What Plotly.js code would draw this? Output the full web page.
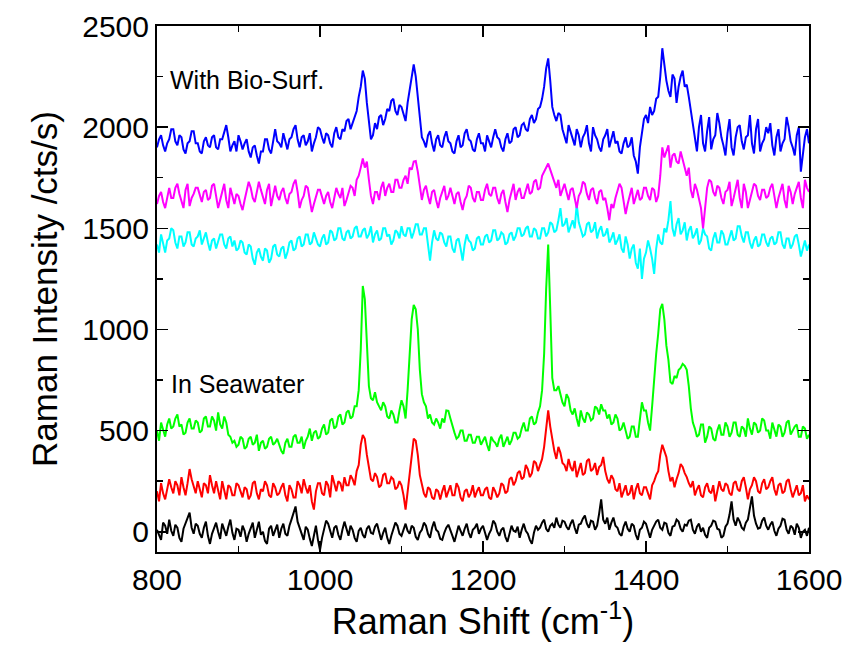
<!DOCTYPE html>
<html>
<head>
<meta charset="utf-8">
<script src="https://cdn.plot.ly/plotly-3.0.1.min.js"></script>
<style>html,body{margin:0;padding:0;background:#fff;}#chart{width:846px;height:647px;}</style>
</head>
<body>
<div id="chart"></div>
<script>
// Raman shift (cm^-1)
var ramanShift = [
800,802.5,805,807.5,810,812.5,815,817.5,820,822.5,825,827.5,830,832.5,835,837.5,840,842.5,845,847.5,
850,852.5,855,857.5,860,862.5,865,867.5,870,872.5,875,877.5,880,882.5,885,887.5,890,892.5,895,897.5,
900,902.5,905,907.5,910,912.5,915,917.5,920,922.5,925,927.5,930,932.5,935,937.5,940,942.5,945,947.5,
950,952.5,955,957.5,960,962.5,965,967.5,970,972.5,975,977.5,980,982.5,985,987.5,990,992.5,995,997.5,
1000,1002.5,1005,1007.5,1010,1012.5,1015,1017.5,1020,1022.5,1025,1027.5,1030,1032.5,1035,1037.5,1040,1042.5,1045,1047.5,
1050,1052.5,1055,1057.5,1060,1062.5,1065,1067.5,1070,1072.5,1075,1077.5,1080,1082.5,1085,1087.5,1090,1092.5,1095,1097.5,
1100,1102.5,1105,1107.5,1110,1112.5,1115,1117.5,1120,1122.5,1125,1127.5,1130,1132.5,1135,1137.5,1140,1142.5,1145,1147.5,
1150,1152.5,1155,1157.5,1160,1162.5,1165,1167.5,1170,1172.5,1175,1177.5,1180,1182.5,1185,1187.5,1190,1192.5,1195,1197.5,
1200,1202.5,1205,1207.5,1210,1212.5,1215,1217.5,1220,1222.5,1225,1227.5,1230,1232.5,1235,1237.5,1240,1242.5,1245,1247.5,
1250,1252.5,1255,1257.5,1260,1262.5,1265,1267.5,1270,1272.5,1275,1277.5,1280,1282.5,1285,1287.5,1290,1292.5,1295,1297.5,
1300,1302.5,1305,1307.5,1310,1312.5,1315,1317.5,1320,1322.5,1325,1327.5,1330,1332.5,1335,1337.5,1340,1342.5,1345,1347.5,
1350,1352.5,1355,1357.5,1360,1362.5,1365,1367.5,1370,1372.5,1375,1377.5,1380,1382.5,1385,1387.5,1390,1392.5,1395,1397.5,
1400,1402.5,1405,1407.5,1410,1412.5,1415,1417.5,1420,1422.5,1425,1427.5,1430,1432.5,1435,1437.5,1440,1442.5,1445,1447.5,
1450,1452.5,1455,1457.5,1460,1462.5,1465,1467.5,1470,1472.5,1475,1477.5,1480,1482.5,1485,1487.5,1490,1492.5,1495,1497.5,
1500,1502.5,1505,1507.5,1510,1512.5,1515,1517.5,1520,1522.5,1525,1527.5,1530,1532.5,1535,1537.5,1540,1542.5,1545,1547.5,
1550,1552.5,1555,1557.5,1560,1562.5,1565,1567.5,1570,1572.5,1575,1577.5,1580,1582.5,1585,1587.5,1590,1592.5,1595,1597.5,
1600];

var blackSeries = [
10,-20,-40,45,30,-10,60,5,-20,35,20,-30,-50,15,40,70,95,20,-10,40,
30,-10,-30,20,50,-20,-60,-10,20,45,0,-35,40,10,-20,25,60,-5,-40,15,
10,-25,30,5,-50,-10,20,45,-30,10,50,-15,0,-45,-60,15,30,-20,10,35,
-30,15,40,-10,-20,30,60,90,125,50,20,-15,-40,25,10,-35,-70,-20,30,-40,
-90,-30,20,55,40,0,-30,20,30,-15,-40,10,50,15,-20,30,10,-30,-50,5,
20,-15,-30,15,30,-5,-10,25,40,0,-40,-5,20,-30,-60,-20,10,45,30,-10,
-20,15,40,5,-10,30,20,-25,-40,-5,10,45,30,-10,-30,20,50,10,0,-35,
-40,-5,20,35,10,-20,-50,-10,30,5,-20,15,40,-5,-30,10,20,40,-10,15,
30,-5,-40,-10,10,55,40,0,-20,10,20,-25,-50,-10,30,5,0,25,-30,10,
40,5,-10,-40,-60,-5,30,10,20,45,60,15,0,30,40,20,70,35,20,55,
50,25,10,40,60,20,-10,35,40,65,80,40,20,55,50,10,30,90,160,60,
40,70,10,45,70,30,20,-10,-20,25,50,15,0,40,30,-15,-40,10,20,50,
40,5,-30,10,30,50,60,20,10,45,40,-5,-20,25,30,60,50,15,0,35,
30,55,60,10,-10,25,40,0,20,-15,-30,20,30,55,50,15,10,-30,-20,25,
40,85,150,60,30,70,50,20,10,45,60,110,175,80,40,15,20,55,70,30,
10,35,50,5,-20,15,30,65,60,10,-10,30,20,-15,40,20,-30,0,10,-20,
20];

var redSeries = [
200,150,240,190,160,210,260,220,190,250,230,180,270,220,180,240,310,260,220,190,
250,210,170,240,230,190,280,230,190,250,210,160,250,200,160,230,220,180,180,240,
230,200,170,220,210,160,180,240,250,190,160,210,200,250,230,180,170,240,220,180,
190,220,240,180,150,230,210,170,170,250,230,190,260,220,190,230,150,110,200,240,
240,190,180,250,230,170,280,240,200,250,240,200,270,230,230,280,260,230,300,330,
430,478,460,380,310,260,250,290,270,220,230,280,290,240,240,270,260,210,220,250,
230,180,110,200,300,400,460,450,380,280,230,190,170,220,210,170,160,210,200,160,
200,230,170,200,230,180,180,240,220,170,150,200,210,170,190,230,170,200,220,180,
180,210,220,170,160,220,200,170,190,240,230,190,200,260,270,230,250,290,300,260,
270,330,310,270,290,350,340,300,330,360,420,520,600,520,450,400,360,420,390,340,
330,300,360,320,300,350,270,310,340,280,290,350,360,300,310,340,280,320,330,370,
300,260,240,280,260,210,200,240,170,200,230,180,190,230,160,210,240,190,180,220,
220,190,160,230,250,280,300,380,430,400,370,300,250,270,220,260,290,335,320,290,
270,240,220,250,180,210,230,180,170,220,240,200,190,230,150,200,250,210,200,240,
230,190,180,240,250,210,200,250,270,220,160,210,230,270,250,200,190,240,260,210,
220,250,270,210,180,230,240,190,200,250,260,210,170,200,230,180,190,230,150,180,
160];

var greenSeries = [
500,450,540,500,470,530,560,510,520,560,580,520,530,480,490,540,560,510,510,550,
540,490,500,560,570,520,520,570,550,500,590,530,510,570,540,480,470,440,450,420,
430,470,460,410,420,460,470,430,440,480,400,440,450,410,420,460,470,430,440,460,
430,400,385,440,460,420,420,470,480,440,440,470,410,450,470,510,450,490,500,460,
470,510,530,480,490,550,560,510,520,570,580,530,540,590,600,560,570,620,620,700,
900,1215,1150,900,720,660,650,690,640,620,600,640,620,570,560,600,580,540,540,600,
650,620,560,700,880,1050,1121,1100,1000,800,680,640,620,560,580,540,530,560,540,510,
560,540,600,598,560,520,490,460,470,500,500,450,450,480,480,440,440,470,470,430,
450,470,430,400,470,450,440,420,460,480,420,450,470,430,450,490,490,460,470,510,
540,500,500,560,570,530,540,590,620,700,880,1200,1420,1100,760,700,700,720,680,640,
620,680,660,600,580,610,560,520,600,560,540,590,580,550,560,620,610,580,630,600,
600,560,580,530,540,580,560,500,510,540,500,460,470,520,520,470,470,560,640,600,
600,540,500,620,760,880,980,1100,1126,1050,920,850,740,730,770,760,800,810,830,820,
800,720,610,540,510,470,480,530,530,440,470,520,510,460,450,500,530,480,480,540,
520,470,490,540,540,480,470,520,510,470,560,510,480,540,530,490,500,560,550,500,
500,460,540,510,470,530,520,470,490,540,550,480,500,520,530,470,470,520,510,460,
480];

var cyanSeries = [
1420,1380,1470,1430,1380,1440,1450,1500,1490,1430,1400,1460,1460,1410,1430,1480,1480,1420,1410,1450,
1460,1490,1420,1450,1480,1430,1390,1440,1450,1400,1430,1470,1470,1420,1400,1450,1460,1410,1440,1390,
1400,1440,1430,1380,1370,1420,1410,1350,1320,1380,1400,1360,1340,1400,1390,1330,1350,1410,1420,1370,
1360,1400,1410,1350,1380,1430,1440,1390,1400,1450,1460,1410,1420,1470,1470,1420,1430,1480,1450,1420,
1410,1450,1470,1420,1430,1490,1480,1440,1450,1500,1500,1450,1440,1480,1490,1450,1460,1500,1510,1460,
1460,1490,1500,1450,1470,1510,1430,1470,1490,1440,1450,1500,1500,1460,1470,1420,1440,1490,1480,1450,
1510,1470,1460,1500,1500,1450,1480,1520,1520,1470,1470,1500,1500,1420,1340,1430,1490,1450,1440,1480,
1470,1430,1410,1460,1460,1400,1380,1440,1450,1400,1340,1420,1470,1440,1430,1390,1400,1450,1460,1420,
1420,1460,1470,1430,1440,1490,1490,1440,1450,1480,1470,1420,1430,1470,1480,1440,1460,1500,1500,1460,
1470,1500,1510,1460,1460,1500,1490,1450,1450,1500,1500,1460,1480,1530,1520,1480,1490,1540,1600,1510,
1520,1550,1480,1510,1540,1500,1620,1530,1500,1460,1470,1520,1530,1480,1490,1530,1450,1490,1510,1460,
1470,1500,1430,1450,1480,1420,1440,1470,1400,1380,1460,1420,1350,1400,1420,1330,1300,1400,1250,1350,
1380,1440,1400,1350,1275,1400,1470,1430,1420,1500,1480,1540,1635,1500,1460,1520,1550,1470,1490,1530,
1440,1490,1510,1450,1470,1500,1420,1440,1500,1470,1460,1400,1390,1450,1480,1430,1430,1490,1470,1420,
1420,1460,1490,1440,1450,1510,1510,1460,1430,1480,1480,1430,1400,1440,1460,1410,1420,1470,1470,1430,
1410,1450,1460,1420,1430,1480,1480,1420,1400,1450,1450,1400,1420,1460,1470,1420,1360,1400,1440,1390,
1420];

var magentaSeries = [
1620,1660,1680,1630,1600,1660,1700,1650,1650,1700,1720,1670,1640,1600,1690,1720,1610,1650,1670,1700,
1700,1660,1630,1680,1690,1640,1650,1710,1720,1660,1600,1640,1680,1720,1640,1600,1700,1660,1620,1670,
1660,1620,1590,1640,1680,1730,1700,1650,1630,1680,1730,1690,1650,1620,1690,1720,1610,1660,1710,1660,
1640,1680,1700,1650,1620,1670,1680,1720,1740,1680,1600,1640,1660,1710,1700,1640,1580,1620,1650,1690,
1690,1650,1620,1660,1680,1630,1600,1650,1700,1670,1650,1700,1610,1640,1670,1710,1700,1660,1740,1760,
1800,1845,1800,1830,1740,1660,1620,1680,1680,1640,1700,1730,1660,1700,1720,1680,1680,1740,1740,1700,
1700,1740,1760,1720,1800,1790,1830,1833,1780,1720,1640,1690,1710,1660,1620,1680,1690,1640,1600,1650,
1680,1710,1640,1660,1700,1660,1620,1670,1680,1630,1590,1640,1660,1710,1700,1650,1630,1680,1680,1640,
1640,1690,1720,1670,1660,1700,1700,1650,1620,1670,1690,1630,1580,1640,1680,1720,1640,1680,1700,1650,
1650,1690,1720,1670,1680,1730,1740,1690,1700,1760,1780,1800,1820,1790,1760,1720,1700,1740,1660,1690,
1720,1680,1640,1690,1700,1650,1600,1660,1680,1730,1720,1670,1640,1690,1700,1650,1620,1680,1690,1640,
1650,1600,1540,1620,1600,1650,1680,1720,1700,1640,1570,1620,1660,1700,1620,1660,1690,1640,1650,1700,
1700,1660,1640,1700,1690,1630,1660,1760,1900,1850,1880,1910,1800,1860,1870,1830,1820,1880,1840,1800,
1760,1800,1690,1650,1720,1690,1650,1600,1500,1620,1700,1740,1730,1680,1660,1710,1700,1650,1620,1680,
1690,1730,1610,1650,1700,1740,1650,1600,1720,1680,1600,1640,1680,1720,1710,1660,1640,1690,1690,1650,
1660,1700,1720,1660,1600,1650,1690,1720,1640,1600,1710,1680,1620,1670,1700,1730,1650,1600,1740,1700,
1680];

var blueSeries = [
1900,1940,1960,1910,1880,1920,1940,1990,1990,1930,1910,1960,1950,1890,1870,1920,1930,1980,1980,1920,
1920,1880,1870,1930,1950,1910,1900,1950,1960,1900,1890,1940,1940,1980,2010,1950,1880,1910,1930,1880,
1960,1930,1890,1920,1940,1880,1850,1900,1910,1860,1820,1880,1880,1940,1940,1890,1870,1930,1990,1930,
1920,1900,1970,1930,1890,1940,1950,1990,2010,1940,1900,1950,1960,1910,1930,1970,1880,1920,1950,2000,
1990,1950,1920,1970,1960,1920,1900,1970,2000,1950,1940,1990,1980,2030,2040,1990,2020,2060,2080,2150,
2200,2280,2240,2120,2020,1940,1960,2020,1990,2050,2060,2010,2040,2090,2080,2130,2140,2080,2060,2110,
2100,2060,2030,2120,2180,2260,2310,2250,2150,2030,1950,1930,1900,1960,1980,1920,1880,1940,1960,1910,
1900,1950,1980,1930,1920,1880,1870,1930,1960,1900,1910,1970,1990,1940,1930,1890,1880,1940,1970,1920,
1920,1880,1960,1930,1900,1950,1990,1950,1940,1900,1880,1940,1970,1920,1930,1990,2000,1950,1960,2010,
2020,1990,1980,2040,2060,2020,2040,2090,2100,2140,2200,2290,2340,2230,2100,2060,2030,2070,2060,1990,
1950,1920,2010,1980,1940,1910,1990,1960,1900,1950,1970,2010,1920,1880,2000,1960,1940,1900,1880,1940,
1960,1990,1900,1940,1980,1920,1930,1880,1870,1920,1950,1900,1910,1950,1860,1830,1770,1900,1980,2040,
2060,2020,2100,2060,2080,2140,2150,2250,2390,2300,2230,2180,2150,2260,2240,2120,2200,2250,2280,2200,
2210,2150,2080,2000,1950,1880,2000,2060,1920,1880,1980,2050,1890,1940,1960,2070,2020,1950,1910,1860,
1970,2040,1900,1860,1950,2000,2010,1930,1890,1950,1960,2060,1920,1870,1990,2040,1880,1920,1940,2000,
1970,2020,1910,1860,1950,1990,1880,1920,1940,2050,2000,1930,1900,1860,1960,2000,1780,1870,1950,1990,
1920];

var seriesNames = ["Blank", "In Seawater (low)", "In Seawater", "With Bio-Surf. (low)", "With Bio-Surf. (mid)", "With Bio-Surf."];
var seriesData = [blackSeries, redSeries, greenSeries, cyanSeries, magentaSeries, blueSeries];
var seriesColors = ["#000000", "#ff0000", "#00ff00", "#00ffff", "#ff00ff", "#0000ff"];
var annotationTexts = ["With Bio-Surf.", "In Seawater"];

var traces = seriesData.map(function (ys, k) {
  return {
    x: ramanShift, y: ys, type: "scatter", mode: "lines",
    name: seriesNames[k],
    line: {color: seriesColors[k], width: 2}
  };
});

var fontFam = "Liberation Sans, Arial, sans-serif";
var layout = {
  width: 846, height: 647,
  margin: {l: 157, r: 37, t: 26, b: 95},
  paper_bgcolor: "#ffffff", plot_bgcolor: "#ffffff",
  showlegend: false,
  font: {family: fontFam, color: "#000"},
  xaxis: {
    range: [800, 1600], dtick: 200, tick0: 800,
    ticks: "inside", ticklen: 11, tickwidth: 1.5, tickcolor: "#000",
    minor: {dtick: 100, ticks: "inside", ticklen: 6, tickwidth: 1.5, tickcolor: "#000"},
    showline: true, linecolor: "#000", linewidth: 2, mirror: "allticks",
    showgrid: false, zeroline: false,
    tickfont: {size: 30, family: fontFam},
    title: {text: "Raman Shift (cm<sup>-1</sup>)", font: {size: 36, family: fontFam}, standoff: 6}
  },
  yaxis: {
    range: [-100, 2500], dtick: 500, tick0: 0,
    ticks: "inside", ticklen: 11, tickwidth: 1.5, tickcolor: "#000",
    minor: {dtick: 250, ticks: "inside", ticklen: 6, tickwidth: 1.5, tickcolor: "#000"},
    showline: true, linecolor: "#000", linewidth: 2, mirror: "allticks",
    showgrid: false, zeroline: false,
    tickfont: {size: 30, family: fontFam},
    title: {text: "Raman Intensity /cts/s)", font: {size: 35, family: fontFam}, standoff: 14}
  },
  annotations: [
    {x: 813, y: 2235, xref: "x", yref: "y", xanchor: "left", yanchor: "middle", showarrow: false,
     text: annotationTexts[0], font: {size: 25, family: fontFam, color: "#000"}},
    {x: 815, y: 728, xref: "x", yref: "y", xanchor: "left", yanchor: "middle", showarrow: false,
     text: annotationTexts[1], font: {size: 25, family: fontFam, color: "#000"}}
  ]
};

Plotly.newPlot("chart", traces, layout, {displayModeBar: false, staticPlot: true});
</script>
</body>
</html>
